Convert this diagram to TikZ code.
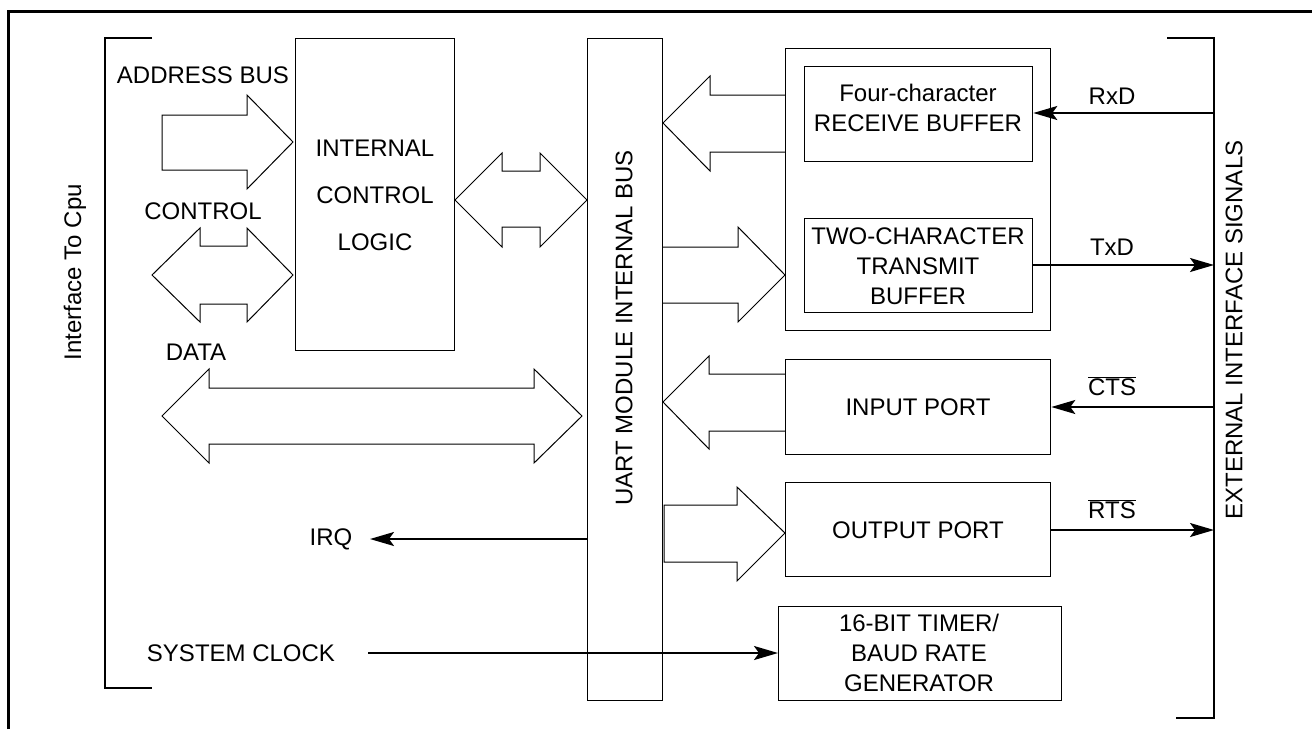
\documentclass[tikz,border=0pt]{standalone}
\usepackage{fontspec}
\setmainfont{Liberation Sans}
\usetikzlibrary{arrows.meta}
\begin{document}
\begin{tikzpicture}[x=1pt,y=-1pt,
  box/.style={draw,line width=1.3pt,anchor=north west,inner sep=0pt,align=center},
  lbl/.style={font=\fontsize{24}{28}\selectfont,inner sep=0pt},
  blk/.style={draw,line width=1pt,line join=miter},
  sig/.style={line width=2pt,-{Stealth[length=24pt,width=14pt,inset=5pt]}},
  brk/.style={line width=1.3pt}]
\useasboundingbox (0,0) rectangle (1312,729);
% outer frame
\draw[line width=3pt] (8,729) -- (8,11) -- (1312,11);
% left bracket
\draw[brk] (152,38) -- (105,38) -- (105,688) -- (152,688);
\node[lbl,rotate=90] (cpu) at (75,272) {Interface To Cpu};
% right bracket
\coordinate (rbtop) at (1214,38);
\coordinate (rbbot) at (1214,718);
\draw[brk] (1167,38) -- (rbtop) -- (rbbot) -- (1176,718);
\node[lbl,rotate=90] (ext) at (1234,330) {EXTERNAL INTERFACE SIGNALS};
% boxes
\node[box,minimum width=159pt,minimum height=312pt] (icl) at (295,38) {};
\node[lbl,align=center] (icltxt) at (375,195) {INTERNAL\\[19pt]CONTROL\\[19pt]LOGIC};
\node[box,minimum width=75pt,minimum height=662pt] (bus) at (587,38) {};
\node[lbl,rotate=90] (bustxt) at (624,328) {UART MODULE INTERNAL BUS};
\node[box,minimum width=265pt,minimum height=282pt] (outer) at (785,48) {};
\node[box,minimum width=228pt,minimum height=95pt] (rx) at (804,66) {};
\node[lbl,align=center] (rxtxt) at (918,108) {Four-character\\[2pt]RECEIVE BUFFER};
\node[box,minimum width=228pt,minimum height=94pt] (tx) at (804,218) {};
\node[lbl,align=center] (txtxt) at (918,266) {TWO-CHARACTER\\[2pt]TRANSMIT\\[2pt]BUFFER};
\node[box,minimum width=265pt,minimum height=95pt] (inp) at (785,359) {};
\node[lbl] (inptxt) at (918,407) {INPUT PORT};
\node[box,minimum width=265pt,minimum height=94pt] (outp) at (785,482) {};
\node[lbl] (outptxt) at (918,530) {OUTPUT PORT};
\node[box,minimum width=283pt,minimum height=94pt] (tmr) at (778,606) {};
\node[lbl,align=center] (tmrtxt) at (919,653) {16-BIT TIMER/\\[2pt]BAUD RATE\\[2pt]GENERATOR};
% left labels
\node[lbl] (addr) at (203,75) {ADDRESS BUS};
\node[lbl] (ctl) at (203,211) {CONTROL};
\node[lbl] (data) at (196,352) {DATA};
\node[lbl] (irq) at (331,539) {IRQ};
\node[lbl] (clk) at (241,653) {SYSTEM CLOCK};
% block arrows
\draw[blk] (162,115) -- (247,115) -- (247,95) -- (293,142) -- (247,189) -- (247,170) -- (162,170) -- cycle;
\draw[blk] (152,275) -- (200,228) -- (200,246) -- (247,246) -- (247,228) -- (293,275) -- (247,322) -- (247,304) -- (200,304) -- (200,322) -- cycle;
\draw[blk] (455,200) -- (502,153) -- (502,171) -- (540,171) -- (540,153) -- (587,200) -- (540,247) -- (540,227) -- (502,227) -- (502,247) -- cycle;
\draw[blk] (162,416) -- (209,369) -- (209,388) -- (534,388) -- (534,369) -- (582,416) -- (534,463) -- (534,444) -- (209,444) -- (209,463) -- cycle;
\draw[blk] (785,95) -- (710,95) -- (710,76) -- (663,123) -- (710,171) -- (710,152) -- (785,152);
\draw[blk] (662,247) -- (738,247) -- (738,227) -- (785,275) -- (738,322) -- (738,303) -- (662,303);
\draw[blk] (785,374) -- (709,374) -- (709,356) -- (663,402) -- (709,449) -- (709,431) -- (785,431);
\draw[blk] (664,505) -- (737,505) -- (737,487) -- (785,533) -- (737,581) -- (737,562) -- (664,562) -- cycle;
% signal lines
\coordinate (rxd) at (1214,113);
\coordinate (txd) at (1214,265);
\coordinate (cts) at (1214,407);
\coordinate (rts) at (1214,530);
\draw[sig] (rxd) -- (rx.east |- rxd);
\draw[sig] (tx.east |- txd) -- (txd);
\draw[sig] (cts) -- (inp.east |- cts);
\draw[sig] (outp.east |- rts) -- (rts);
\node[lbl] (rxdl) at (1112,96) {RxD};
\node[lbl] (txdl) at (1112,247) {TxD};
\node[lbl] (ctsl) at (1112,386) {$\overline{\mbox{CTS}}$};
\node[lbl] (rtsl) at (1112,509) {$\overline{\mbox{RTS}}$};
\coordinate (irqend) at (370,539);
\draw[sig] (bus.west |- irqend) -- (irqend);
\coordinate (clkstart) at (368,653);
\draw[sig] (clkstart) -- (tmr.west |- clkstart);
\end{tikzpicture}
\end{document}
